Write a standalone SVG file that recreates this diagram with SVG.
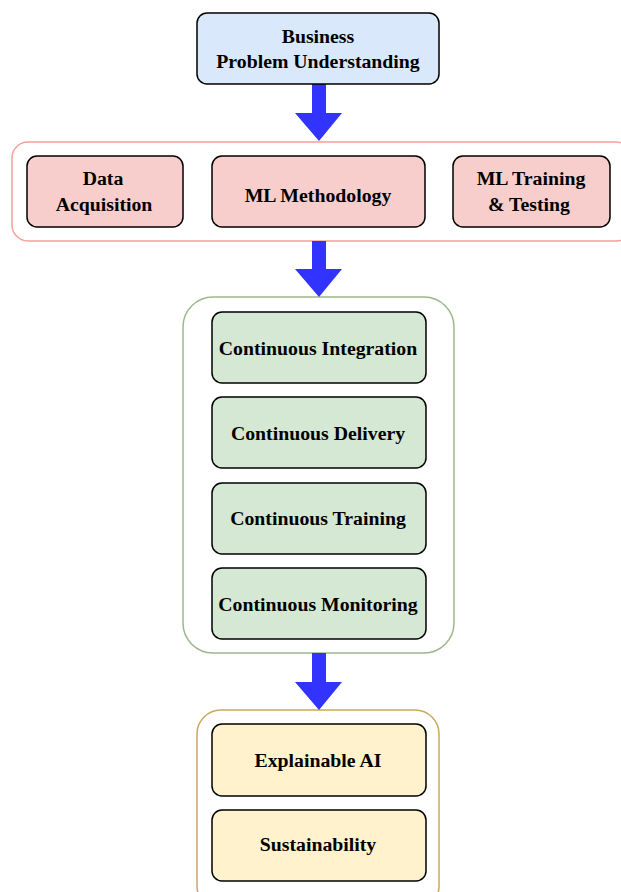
<svg xmlns="http://www.w3.org/2000/svg" width="621" height="892" viewBox="0 0 621 892">
<style>
.t{font-family:"Liberation Serif","Times New Roman",serif;font-weight:bold;font-size:19.8px;fill:#000;text-anchor:middle}
.n{stroke:#000;stroke-width:1.5}
.blue{fill:#dae8fc}
.red{fill:#f8cecc}
.green{fill:#d5e8d4}
.yellow{fill:#fff2cc}
.arrow{fill:#3333ff;stroke:none}
</style>
<rect width="621" height="892" fill="#fff"/>
<g id="container-red"><rect x="12" y="142" width="620" height="99" rx="16" fill="#fff" stroke="#f4a09c" stroke-width="1.5"/></g>
<g id="container-green"><rect x="183" y="297" width="271" height="356" rx="30" fill="#fff" stroke="#9cb88a" stroke-width="1.5"/></g>
<g id="container-yellow"><rect x="197" y="710" width="242" height="200" rx="24" fill="#fff" stroke="#c8a95e" stroke-width="1.5"/></g>
<g id="connectors">
<polygon class="arrow" points="312,84 326,84 326,113 342,113 319,141 295,113 312,113"/>
<polygon class="arrow" points="312,241 326,241 326,269 342,269 319,297 295,269 312,269"/>
<polygon class="arrow" points="312,653 326,653 326,682 342,682 319,710 295,682 312,682"/>
</g>
<g id="business"><rect class="n blue" x="197" y="13" width="242" height="71" rx="10"/><text class="t" x="318" y="43">Business</text><text class="t" x="318" y="68">Problem Understanding</text></g>
<g id="data-acquisition"><rect class="n red" x="27" y="156" width="156" height="71" rx="10"/><text class="t" x="103" y="185">Data</text><text class="t" x="104" y="211">Acquisition</text></g>
<g id="ml-methodology"><rect class="n red" x="212" y="156" width="213" height="71" rx="10"/><text class="t" x="318" y="202">ML Methodology</text></g>
<g id="ml-training"><rect class="n red" x="453" y="156" width="157" height="71" rx="10"/><text class="t" x="531" y="185">ML Training</text><text class="t" x="529" y="211">&amp; Testing</text></g>
<g id="ci"><rect class="n green" x="212" y="312" width="214" height="71" rx="10"/><text class="t" x="318" y="355">Continuous Integration</text></g>
<g id="cd"><rect class="n green" x="212" y="397" width="214" height="71" rx="10"/><text class="t" x="318" y="440">Continuous Delivery</text></g>
<g id="ct"><rect class="n green" x="212" y="483" width="214" height="71" rx="10"/><text class="t" x="318" y="525">Continuous Training</text></g>
<g id="cm"><rect class="n green" x="212" y="568" width="214" height="71" rx="10"/><text class="t" x="318" y="611">Continuous Monitoring</text></g>
<g id="xai"><rect class="n yellow" x="212" y="724" width="214" height="72" rx="10"/><text class="t" x="318" y="767">Explainable AI</text></g>
<g id="sustainability"><rect class="n yellow" x="212" y="810" width="214" height="71" rx="10"/><text class="t" x="318" y="851">Sustainability</text></g>
</svg>
